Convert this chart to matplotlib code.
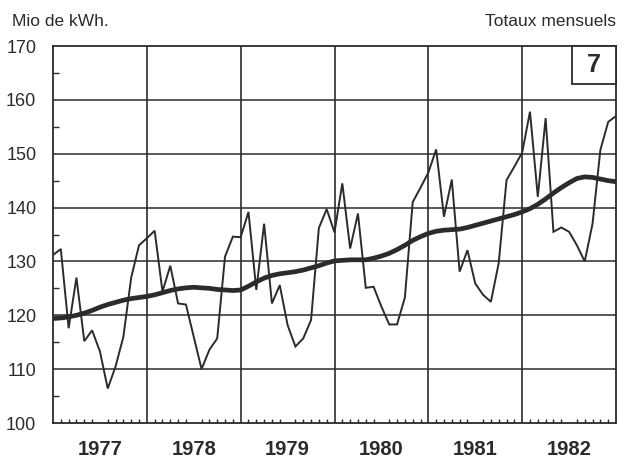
import numpy as np
import matplotlib.pyplot as plt
from matplotlib.ticker import FixedLocator
from matplotlib.patches import Rectangle

plt.rcParams['font.family']=['Liberation Sans', 'DejaVu Sans']
plt.rcParams['axes.linewidth']=1.0
plt.rcParams['xtick.direction']='in'
plt.rcParams['ytick.direction']='in'

# monthly totals, Jan 1977 .. end 1982 (73 points on the month grid)
monthly=[
        131.2, 132.3, 117.6, 127.0, 115.2, 117.2, 113.3, 106.4, 110.5, 116.0, 127.0, 133.0,
        134.3, 135.7, 124.4, 129.2, 122.2, 122.0, 116.0, 110.0, 113.6, 115.7, 130.9, 134.6,
        134.5, 139.2, 124.7, 137.0, 122.2, 125.6, 118.2, 114.2, 115.7, 119.1, 136.2, 139.7,
        135.4, 144.5, 132.4, 138.9, 125.1, 125.3, 121.6, 118.3, 118.3, 123.3, 141.0, 143.7,
        146.5, 150.8, 138.3, 145.2, 128.1, 132.1, 125.9, 123.8, 122.5, 129.7, 145.1, 147.6,
        150.2, 157.8, 142.0, 156.6, 135.5, 136.3, 135.5, 133.0, 130.0, 137.0, 150.7, 155.9,
        157.0,
        ]
# smoothed trend (thick line)
trend=[
        119.4, 119.5, 119.7, 120.0, 120.4, 120.9, 121.5, 122.0, 122.4, 122.8, 123.1, 123.3,
        123.5, 123.8, 124.2, 124.6, 124.9, 125.1, 125.2, 125.1, 125.0, 124.8, 124.7, 124.6,
        124.7, 125.4, 126.2, 126.9, 127.4, 127.7, 127.9, 128.1, 128.4, 128.8, 129.2, 129.7,
        130.1, 130.2, 130.3, 130.3, 130.3, 130.6, 131.0, 131.5, 132.2, 133.0, 133.9, 134.6,
        135.2, 135.6, 135.8, 135.9, 136.0, 136.3, 136.7, 137.1, 137.5, 137.9, 138.3, 138.7,
        139.2, 139.8, 140.6, 141.6, 142.7, 143.7, 144.6, 145.4, 145.7, 145.6, 145.3, 145.0,
        144.8,
        ]
years=['1977', '1978', '1979', '1980', '1981', '1982']
y_ticks=[100, 110, 120, 130, 140, 150, 160, 170]

ink='#2b2b2b'
W, H=622, 459

fig=plt.figure(figsize=(W/100, H/100), dpi=100)
ax=fig.add_axes([53/W, 36/H, 563/W, 377/H])

months=np.arange(len(monthly))
ax.plot(months, monthly, color=ink, lw=1.4, zorder=3, solid_joinstyle='miter')
ax.plot(months, trend, color=ink, lw=3.4, zorder=4, solid_capstyle='butt')

ax.set_xlim(0, 72)
ax.set_ylim(100, 170)

# horizontal grid at each 10, vertical grid at each year boundary
for v in y_ticks[1:-1]:
    ax.axhline(v, color=ink, lw=1.1, zorder=1)
for b in range(12, 72, 12):
    ax.axvline(b, color=ink, lw=1.2, zorder=1)

ax.set_yticks(y_ticks)
ax.set_yticklabels([str(v) for v in y_ticks])
ax.yaxis.set_minor_locator(FixedLocator(np.arange(105, 170, 10)))
ax.tick_params(axis='y', which='major', length=0, pad=12,
        labelsize=13, labelcolor=ink)
ax.tick_params(axis='y', which='minor', length=4, width=1, color=ink)

ax.set_xticks([6+12*i for i in range(len(years))])
ax.set_xticklabels(years, fontweight='bold')
ax.xaxis.set_minor_locator(FixedLocator([m for m in range(1, 72) if m%12]))
ax.tick_params(axis='x', which='major', length=0, pad=12,
        labelsize=14.5, labelcolor=ink)
ax.tick_params(axis='x', which='minor', length=3, width=1, color=ink)

for s in ax.spines.values():
    s.set_color(ink)
    s.set_linewidth(1.3)

fig.text(12/W, 1-21/H, 'Mio de kWh.', fontsize=12.5, color=ink,
        ha='left', va='center')
fig.text(616/W, 1-21/H, 'Totaux mensuels', fontsize=12.5, color=ink,
        ha='right', va='center')

# chart number box tucked into the top right corner
box_x0, box_y0=0.922, 0.899
ax.add_patch(Rectangle(
        (box_x0, box_y0), 1-box_x0, 1-box_y0, transform=ax.transAxes,
        facecolor='white', edgecolor=ink, lw=1.3, zorder=6, clip_on=False,
        ))
ax.text((1+box_x0)/2, (1+box_y0)/2, '7', transform=ax.transAxes,
        fontsize=18, fontweight='bold', color=ink, ha='center',
        va='center', zorder=7)

fig.savefig('out.png', dpi=100)
